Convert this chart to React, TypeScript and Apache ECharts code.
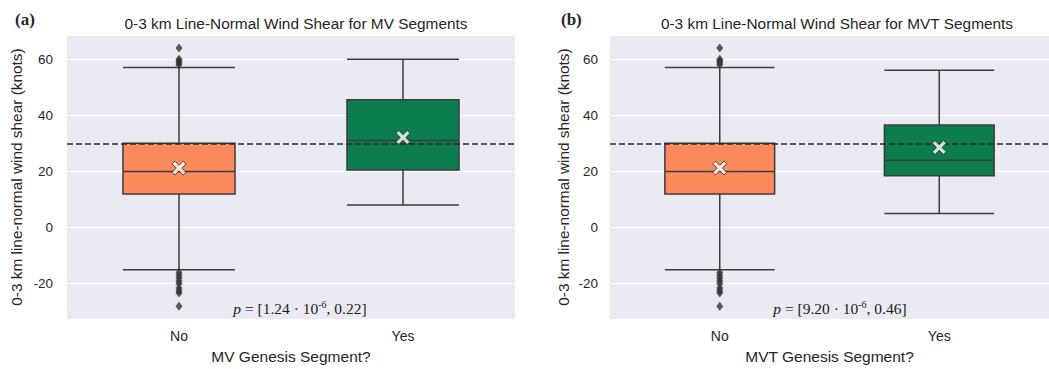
import React, { useEffect, useRef } from "react";
import * as echarts from "echarts";

const categories = ["No", "Yes"];
// [lower whisker, Q1, median, Q3, upper whisker]
const boxMV = [
  [-15, 12, 20, 30, 57],
  [8, 20.5, 31, 45.5, 60],
];
const boxMVT = [
  [-15, 12, 20, 30, 57],
  [5, 18.5, 24, 36.5, 56],
];
const meansMV = [21.2, 32.1];
const meansMVT = [21.2, 28.5];
const outliersNo = [58, 58.7, 59.3, 60, 64, -16, -17, -18, -19, -20, -21.5, -22.5, -23.3, -28];
const threshold = 30;
const yTicks = [-20, 0, 20, 40, 60];
const titles = [
  "0-3 km Line-Normal Wind Shear for MV Segments",
  "0-3 km Line-Normal Wind Shear for MVT Segments",
];
const xNames = ["MV Genesis Segment?", "MVT Genesis Segment?"];
const yName = "0-3 km line-normal wind shear (knots)";
const pTexts = [
  ["1.24", "0.22"],
  ["9.20", "0.46"],
];
const panelLabels = ["(a)", "(b)"];

const COLORS = ["#fd8a5c", "#0b7d4e"];
const EDGE = "#3c3c3c";
const XPATH =
  "path://M0,2 L2,0 L5,3 L8,0 L10,2 L7,5 L10,8 L8,10 L5,7 L2,10 L0,8 L3,5 Z";

export default function App() {
  const ref = useRef<HTMLDivElement>(null);
  useEffect(() => {
    const chart = echarts.init(ref.current!, null, { renderer: "svg" });
    const grids = [
      { left: 67, top: 35, width: 448, height: 290 },
      { left: 610, top: 35, width: 444, height: 290 },
    ];
    const yMin = -32.6;
    const yMax = 68.6;
    const series: any[] = [];
    const boxes = [boxMV, boxMVT];
    const means = [meansMV, meansMVT];
    [0, 1].forEach((i) => {
      series.push({
        type: "boxplot",
        xAxisIndex: i,
        yAxisIndex: i,
        boxWidth: ["50%", "50%"],
        data: boxes[i].map((v, k) => ({
          value: v,
          itemStyle: { color: COLORS[k], borderColor: EDGE, borderWidth: 1.5 },
        })),
        markLine: {
          silent: true,
          symbol: "none",
          label: { show: false },
          lineStyle: { type: [6, 3], color: "#2a2a2a", width: 1.6 },
          data: [{ yAxis: threshold }],
          z: 5,
        },
      });
      series.push({
        type: "scatter",
        xAxisIndex: i,
        yAxisIndex: i,
        symbol: "diamond",
        symbolSize: [7, 9],
        itemStyle: { color: "#333333" },
        data: outliersNo.map((v) => [0, v]),
      });
      series.push({
        type: "scatter",
        xAxisIndex: i,
        yAxisIndex: i,
        symbol: XPATH,
        symbolSize: 14,
        z: 10,
        itemStyle: { color: "#ffffff", borderColor: "#222", borderWidth: 1 },
        data: means[i].map((v, k) => [k, v]),
      });
    });

    const option: any = {
      animation: false,
      textStyle: { fontFamily: "Liberation Sans, Arial, sans-serif" },
      grid: grids.map((g) => ({
        ...g,
        show: true,
        backgroundColor: "#eaeaf2",
        borderWidth: 0,
        containLabel: false,
      })),
      title: [0, 1].map((i) => ({
        text: titles[i],
        left: grids[i].left + grids[i].width / 2,
        top: 11,
        textAlign: "center",
        textStyle: {
          fontSize: 15.4,
          fontWeight: "normal",
          color: "#262626",
          fontFamily: "Liberation Sans, Arial, sans-serif",
        },
      })),
      xAxis: [0, 1].map((i) => ({
        type: "category",
        gridIndex: i,
        data: categories,
        boundaryGap: true,
        axisLine: { show: false },
        axisTick: { show: false },
        splitLine: { show: false },
        axisLabel: { color: "#262626", fontSize: 14, margin: 10 },
        name: xNames[i],
        nameLocation: "middle",
        nameGap: 27,
        nameTextStyle: { color: "#262626", fontSize: 15.5 },
      })),
      yAxis: [0, 1].map((i) => ({
        type: "value",
        gridIndex: i,
        min: yMin,
        max: yMax,
        splitNumber: 5,
        axisLine: { show: false },
        axisTick: { show: false },
        splitLine: { show: true, lineStyle: { color: "#ffffff", width: 1 } },
        axisLabel: {
          color: "#262626",
          fontSize: 13.5,
          margin: i === 0 ? 14 : 12,
          showMinLabel: false,
          showMaxLabel: false,
          formatter: (v: number) => (yTicks.includes(v) ? String(v) : ""),
        },
        name: yName,
        nameLocation: "middle",
        nameGap: i === 0 ? 43 : 39,
        nameTextStyle: { color: "#262626", fontSize: 15.4 },
      })),
      series,
      graphic: [
        ...[0, 1].map((i) => ({
          type: "text",
          left: i === 0 ? 15 : 561,
          top: 11,
          style: {
            text: panelLabels[i],
            font: "bold 17px 'Liberation Serif', 'Times New Roman', serif",
            fill: "#262626",
          },
        })),
        ...[0, 1].map((i) => ({
          type: "text",
          x: i === 0 ? 300 : 840,
          y: 308,
          style: {
            text: `{i|p} = [${pTexts[i][0]} · 10{s|-6}, ${pTexts[i][1]}]`,
            align: "center",
            verticalAlign: "middle",
            fill: "#1a1a1a",
            font: "15.5px 'Liberation Serif', 'Times New Roman', serif",
            rich: {
              i: {
                fontStyle: "italic",
                fontSize: 15.5,
                fontFamily: "Liberation Serif",
                fill: "#1a1a1a",
              },
              s: {
                fontSize: 10,
                fontFamily: "Liberation Serif",
                verticalAlign: "top",
                padding: [0, 0, 7, 0],
                fill: "#1a1a1a",
              },
            },
          },
          z: 20,
        })),
      ],
    };
    chart.setOption(option);
    return () => chart.dispose();
  }, []);
  return (
    <div
      ref={ref}
      style={{ position: "fixed", left: 0, top: 0, width: 1049, height: 369, background: "#fff" }}
    />
  );
}
